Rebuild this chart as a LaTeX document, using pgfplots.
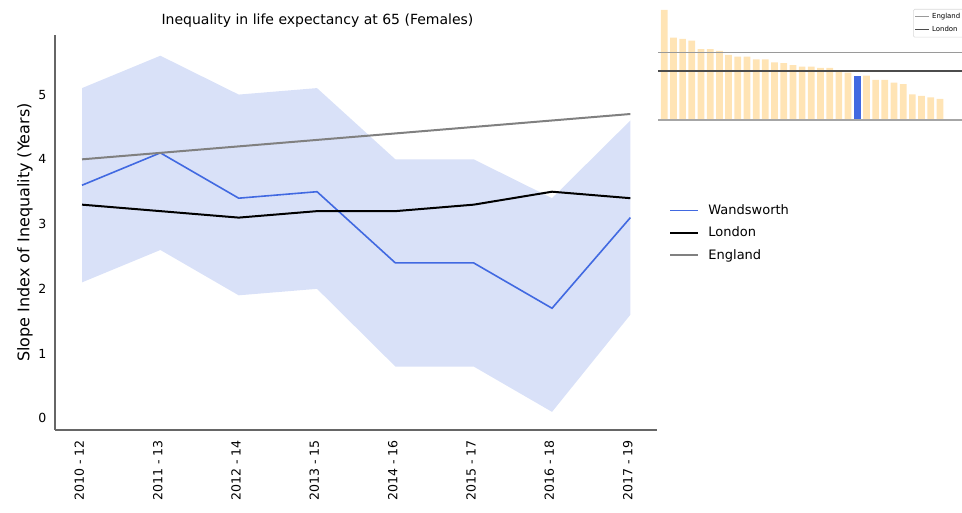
\documentclass[border=0pt]{standalone}
\usepackage{fontspec}
\setmainfont{DejaVu Sans}
\usepackage{pgfplots}
\pgfplotsset{compat=1.18}
\definecolor{royal}{HTML}{4169E1}
\definecolor{band}{HTML}{D9E1F8}
\definecolor{peach}{HTML}{FFE4B5}
\definecolor{eng}{HTML}{808080}
\begin{document}
\begin{tikzpicture}
\useasboundingbox (-41.25pt,-62.25pt) rectangle (680.25pt,322.5pt);
\begin{axis}[
  at={(0pt,0pt)}, anchor=south west,
  scale only axis, width=451.5pt, height=296.25pt,
  xmin=-0.345, xmax=7.34, ymin=-0.18, ymax=5.92,
  axis x line*=bottom, axis y line*=left,
  axis line style={-, black!60, line width=0.8pt},
  every outer x axis line/.append style={-},
  every outer y axis line/.append style={-},
  xtick={0,...,7},
  xticklabels={2010 - 12,2011 - 13,2012 - 14,2013 - 15,2014 - 16,2015 - 17,2016 - 18,2017 - 19},
  ytick={0,...,5},
  major tick length=0pt,
  tick label style={font=\fontsize{9.4}{11}\selectfont},
  xticklabel style={rotate=90, anchor=east, xshift=-4pt, yshift=2pt},
  yticklabel style={xshift=-3pt},
  /pgf/number format/assume math mode=true,
  ylabel={Slope Index of Inequality (Years)},
  ylabel style={font=\fontsize{12}{14}\selectfont, at={(axis description cs:-0.05,0.5)}, anchor=center},
  title={Inequality in life expectancy at 65 (Females)},
  title style={font=\fontsize{10.5}{12}\selectfont, at={(axis description cs:0.436,1)}, anchor=south, yshift=-4pt},
  legend style={at={(axis description cs:1.013,0.499)}, anchor=west, draw=none, fill=none,
    font=\fontsize{9.75}{11}\selectfont, row sep=3.8pt},
  legend cell align=left,
  legend image code/.code={\draw[#1] (0pt,0pt) -- (21pt,0pt); \path (26pt,0pt);},
]
\addplot[fill=band, draw=none, forget plot] coordinates {
  (0,5.1) (1,5.6) (2,5.0) (3,5.1) (4,4.0) (5,4.0) (6,3.4) (7,4.6)
  (7,1.6) (6,0.1) (5,0.8) (4,0.8) (3,2.0) (2,1.9) (1,2.6) (0,2.1)} -- cycle;
\addplot[royal, line width=1.2pt] coordinates {
  (0,3.6) (1,4.1) (2,3.4) (3,3.5) (4,2.4) (5,2.4) (6,1.7) (7,3.1)};
\addlegendentry{Wandsworth}
\addplot[black, line width=1.5pt] coordinates {
  (0,3.3) (1,3.2) (2,3.1) (3,3.2) (4,3.2) (5,3.3) (6,3.5) (7,3.4)};
\addlegendentry{London}
\addplot[eng, line width=1.5pt] coordinates {
  (0,4.0) (1,4.1) (2,4.2) (3,4.3) (4,4.4) (5,4.5) (6,4.6) (7,4.7)};
\addlegendentry{England}
\end{axis}
\begin{axis}[
  at={(452.25pt,232.5pt)}, anchor=south west,
  scale only axis, width=228pt, height=83.25pt,
  xmin=-0.68, xmax=32.4, ymin=0, ymax=7.7,
  hide axis, clip=false,
  legend style={at={(axis description cs:0.839,1.0)}, anchor=north west, draw=black!15, fill=white,
    font=\fontsize{5.2}{6}\selectfont, row sep=0pt, inner sep=1pt, rounded corners=1pt},
  legend cell align=left,
  legend image code/.code={\draw[#1] (0pt,0pt) -- (10pt,0pt);},
]
\addplot[ybar, bar width=0.73, bar shift=0pt, fill=peach, draw=none, forget plot] coordinates {
  (0,7.64) (1,5.72) (2,5.63) (3,5.51) (4,4.91) (5,4.91) (6,4.79) (7,4.51)
  (8,4.40) (9,4.40) (10,4.21) (11,4.21) (12,4.00) (13,3.94) (14,3.80) (15,3.70)
  (16,3.70) (17,3.61) (18,3.61) (19,3.40) (20,3.29) (22,3.08) (23,2.78)
  (24,2.78) (25,2.59) (26,2.48) (27,1.78) (28,1.67) (29,1.57) (30,1.46)};
\addplot[ybar, bar width=0.73, bar shift=0pt, fill=royal, draw=none, forget plot] coordinates {(21,3.08)};
\addplot[eng!70, line width=0.8pt, forget plot] coordinates {(-0.68,0) (32.4,0)};
\addplot[eng!80, line width=0.8pt] coordinates {(-0.68,4.7) (32.4,4.7)};
\addlegendentry{England}
\addplot[black!70, line width=1.1pt] coordinates {(-0.68,3.4) (32.4,3.4)};
\addlegendentry{London}
\end{axis}
\end{tikzpicture}
\end{document}
